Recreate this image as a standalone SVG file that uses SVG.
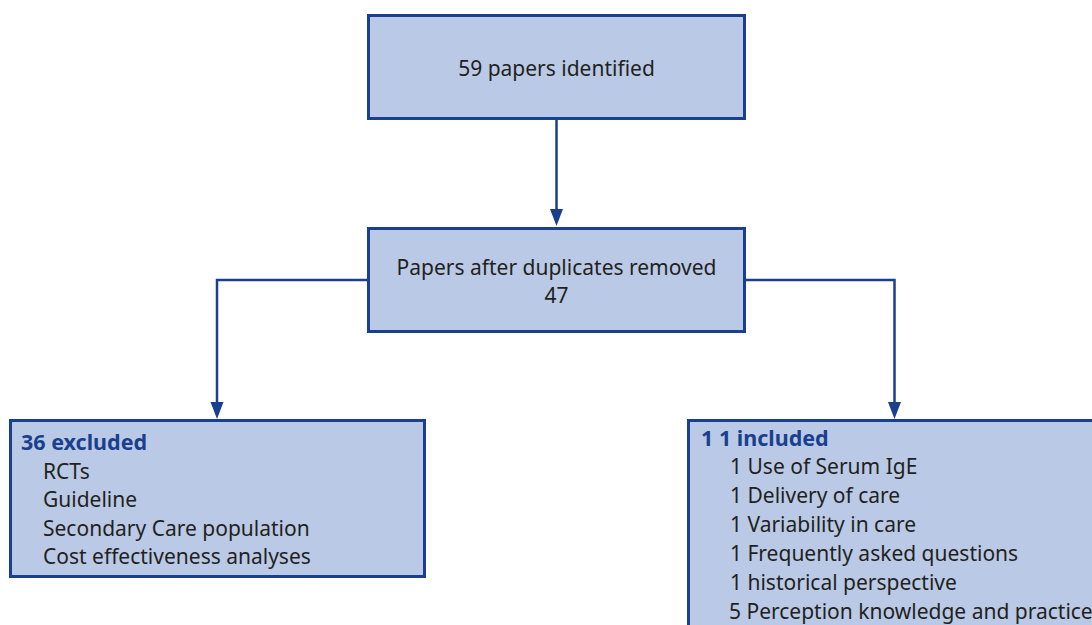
<svg xmlns="http://www.w3.org/2000/svg" width="1092" height="625" viewBox="0 0 1092 625">
<defs>
<style>
.box{fill:#bacae6;stroke:#1b3f8f;stroke-width:3}
.t{font-family:"Noto Sans","Open Sans","Liberation Sans",sans-serif;font-size:21px;fill:#231f20}
.h{font-family:"Noto Sans","Open Sans","Liberation Sans",sans-serif;font-size:21.5px;font-weight:bold;fill:#1b3f8f}
.c{fill:none;stroke:#1b3f8f;stroke-width:2.5}
.a{fill:#1b3f8f}
</style>
</defs>
<rect width="1092" height="625" fill="#ffffff"/>
<g id="connectors">
<path class="c" d="M556.5,118 V209" />
<path class="a" d="M550,209 L563,209 L556.5,226 Z"/>
<path class="c" d="M368,280 H217 V402" />
<path class="a" d="M210.5,402 L223.5,402 L217,419 Z"/>
<path class="c" d="M744,280 H894.5 V402" />
<path class="a" d="M888,402 L901,402 L894.5,419 Z"/>
</g>
<g id="n1">
<rect class="box" x="368.5" y="15.5" width="376" height="103"/>
<text class="t" x="556.5" y="76" text-anchor="middle">59 papers identified</text>
</g>
<g id="n2">
<rect class="box" x="368.5" y="228.5" width="376" height="103"/>
<text class="t" x="556.5" y="275" text-anchor="middle">Papers after duplicates removed</text>
<text class="t" x="556.5" y="303" text-anchor="middle">47</text>
</g>
<g id="n3">
<rect class="box" x="10.5" y="420.5" width="414" height="156"/>
<text class="h" x="21" y="450">36 excluded</text>
<text class="t" x="43" y="479">RCTs</text>
<text class="t" x="43" y="507">Guideline</text>
<text class="t" x="43" y="536">Secondary Care population</text>
<text class="t" x="43" y="564">Cost effectiveness analyses</text>
</g>
<g id="n4">
<rect class="box" x="688.5" y="420.5" width="420" height="230"/>
<text class="h" x="701" y="446">1 1 included</text>
<text class="t" x="730" y="474">1 Use of Serum IgE</text>
<text class="t" x="730" y="503">1 Delivery of care</text>
<text class="t" x="730" y="532">1 Variability in care</text>
<text class="t" x="730" y="561">1 Frequently asked questions</text>
<text class="t" x="730" y="590">1 historical perspective</text>
<text class="t" x="729" y="619">5 Perception knowledge and practice</text>
</g>
</svg>
